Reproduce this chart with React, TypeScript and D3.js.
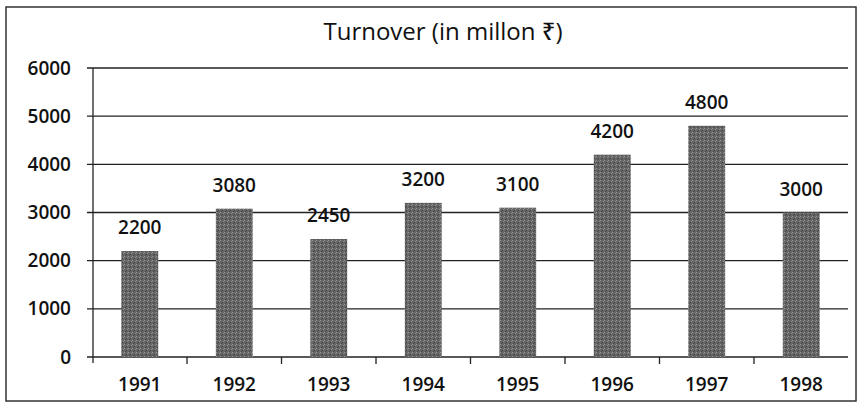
import React from "react";
import * as d3 from "d3";

const years = ["1991", "1992", "1993", "1994", "1995", "1996", "1997", "1998"];
const turnover = [2200, 3080, 2450, 3200, 3100, 4200, 4800, 3000];
const yTicks = [0, 1000, 2000, 3000, 4000, 5000, 6000];
const title = "Turnover (in millon ₹)";

const W = 858;
const H = 405;
const M = { left: 93, right: 10, top: 68, bottom: 48 };

export default function App() {
  const x = d3
    .scaleBand<string>()
    .domain(years)
    .range([M.left, W - M.right])
    .paddingInner(0.61)
    .paddingOuter(0.3);
  const y = d3.scaleLinear().domain([0, 6000]).range([H - M.bottom, M.top]);
  const font = "'Open Sans', 'Noto Sans', sans-serif";
  const fs = 19;

  return (
    <svg
      width={W}
      height={H}
      style={{ position: "absolute", left: 0, top: 0, background: "#fff" }}
      fontFamily={font}
    >
      <defs>
        <pattern id="tex" width="4" height="4" patternUnits="userSpaceOnUse">
          <rect width="4" height="4" fill="#666" />
          <rect x="0" y="0" width="1" height="1" fill="#999" />
          <rect x="2" y="2" width="1" height="1" fill="#3e3e3e" />
          <rect x="3" y="1" width="1" height="1" fill="#8a8a8a" />
          <rect x="1" y="3" width="1" height="1" fill="#4a4a4a" />
        </pattern>
      </defs>
      <rect x={6} y={7} width={W - 8} height={H - 11} fill="none" stroke="#333" strokeWidth={1.5} />
      <text x={443} y={40} textAnchor="middle" fontSize={24} fontWeight={500} fill="#111">
        {title}
      </text>
      {yTicks.map((t) => (
        <g key={t}>
          <line
            x1={M.left - 6}
            x2={W - M.right}
            y1={y(t)}
            y2={y(t)}
            stroke="#222"
            strokeWidth={1.3}
          />
          <text
            x={71}
            y={y(t)}
            dy="0.35em"
            textAnchor="end"
            fontSize={fs}
            fontWeight={600}
            fill="#111"
          >
            {t}
          </text>
        </g>
      ))}
      <line x1={M.left} x2={M.left} y1={M.top} y2={y(0) + 6} stroke="#222" strokeWidth={1.3} />
      {years.map((yr, i) => {
        const bx = x(yr)!;
        const cx = bx + x.bandwidth() / 2;
        return (
          <g key={yr}>
            <rect
              x={bx}
              y={y(turnover[i])}
              width={x.bandwidth()}
              height={y(0) - y(turnover[i])}
              fill="url(#tex)"
            />
            <text
              x={cx}
              y={y(turnover[i]) - 17}
              textAnchor="middle"
              fontSize={fs}
              fontWeight={600}
              fill="#111"
            >
              {turnover[i]}
            </text>
            <text x={cx} y={391} textAnchor="middle" fontSize={fs} fontWeight={600} fill="#111">
              {yr}
            </text>
            {i < years.length - 1 && (
              <line
                x1={cx + x.step() / 2}
                x2={cx + x.step() / 2}
                y1={y(0)}
                y2={y(0) + 7}
                stroke="#222"
                strokeWidth={1.3}
              />
            )}
          </g>
        );
      })}
    </svg>
  );
}
